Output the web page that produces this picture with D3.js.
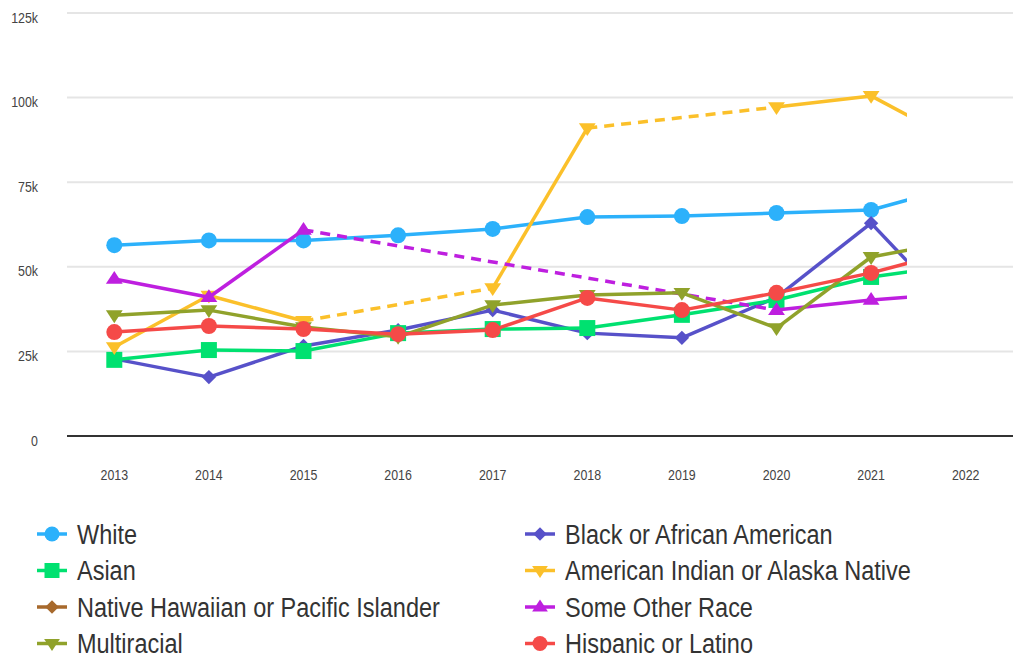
<!DOCTYPE html>
<html>
<head>
<meta charset="utf-8">
<script src="https://cdn.jsdelivr.net/npm/d3@7"></script>
<style>
  body { margin: 0; background: #fff; }
  svg { display: block; font-family: "Liberation Sans", Arial, sans-serif; }
</style>
</head>
<body>
<script>
// chart data (values in thousands)
const years = [2013, 2014, 2015, 2016, 2017, 2018, 2019, 2020, 2021, 2022]
const yTicks = [0, 25, 50, 75, 100, 125]

const white = [56.4, 57.8, 57.8, 59.3, 61.2, 64.7, 65.0, 65.9, 66.8, 74.5]
const black = [22.8, 17.4, 26.6, 31.3, 37.2, 30.4, 29.0, 41.0, 62.9, 33.4]
const asian = [22.5, 25.4, 25.1, 30.4, 31.6, 31.9, 35.8, 40.2, 47.0, 50.8]
const amIndian = [26.3, 41.5, 34.0, null, 43.7, 91.0, null, 97.2, 100.5, 85.7]
const hawaiian = [null, null, null, null, null, null, null, null, null, null]
const otherRace = [46.4, 41.0, 60.9, null, null, null, null, 37.2, 40.2, 42.3]
const multiracial = [35.7, 37.2, 32.2, 29.3, 38.7, 41.7, 42.3, 31.9, 52.9, 58.2]
const hispanic = [30.7, 32.5, 31.6, 30.1, 31.3, 40.8, 37.2, 42.3, 48.2, 55.6]

const series = [
    {name: 'White', values: white, color: '#2cb1fb', marker: 'circle'},
    {name: 'Black or African American', values: black, color: '#5751c9', marker: 'diamond'},
    {name: 'Asian', values: asian, color: '#00e170', marker: 'square'},
    {name: 'American Indian or Alaska Native', values: amIndian, color: '#fbc02a', marker: 'down'},
    {name: 'Native Hawaiian or Pacific Islander', values: hawaiian, color: '#a7692c', marker: 'diamond'},
    {name: 'Some Other Race', values: otherRace, color: '#be1fdf', marker: 'up'},
    {name: 'Multiracial', values: multiracial, color: '#90a22b', marker: 'down'},
    {name: 'Hispanic or Latino', values: hispanic, color: '#f54a48', marker: 'circle'}
]

const width = 1021, height = 653
const svg = d3.select('body').append('svg')
    .attr('width', width)
    .attr('height', height)

const x = d3.scaleBand().domain(years).range([67, 1013])
const xc = d => x(d) + x.bandwidth() / 2
const y = d3.scaleLinear().domain([0, 125]).range([436, 13])

// grid lines
svg.append('g').selectAll('line')
    .data(yTicks.filter(t => t > 0))
    .join('line')
    .attr('x1', 67).attr('x2', 1013)
    .attr('y1', d => y(d)).attr('y2', d => y(d))
    .attr('stroke', '#e5e5e5')
    .attr('stroke-width', 2)

// baseline
svg.append('line')
    .attr('x1', 67).attr('x2', 1013)
    .attr('y1', y(0)).attr('y2', y(0))
    .attr('stroke', '#333')
    .attr('stroke-width', 2)

// labels are drawn a bit narrow, like the original
const squeeze = 0.8

// y labels
svg.append('g').selectAll('text')
    .data(yTicks)
    .join('text')
    .attr('transform', d => `translate(38,${y(d) + 9.5}) scale(${squeeze},1)`)
    .attr('text-anchor', 'end')
    .attr('font-size', 15.5)
    .attr('fill', '#444')
    .text(d => d === 0 ? '0' : d + 'k')

// x labels
svg.append('g').selectAll('text')
    .data(years)
    .join('text')
    .attr('transform', d => `translate(${xc(d)},479.5) scale(${squeeze},1)`)
    .attr('text-anchor', 'middle')
    .attr('font-size', 15.5)
    .attr('fill', '#444')
    .text(d => d)

function markerPath(type, s) {
    if (type === 'circle') return d3.symbol(d3.symbolCircle, Math.PI * s * s)()
    if (type === 'square') return `M${-s},${-s}H${s}V${s}H${-s}Z`
    if (type === 'diamond') { let r = s * 0.9; return `M0,${-r}L${r},0L0,${r}L${-r},0Z` }
    let h = s * 1.6, w = s * 1.05
    if (type === 'up') return `M0,${-h * 0.62}L${w},${h * 0.38}L${-w},${h * 0.38}Z`
    return `M0,${h * 0.62}L${w},${-h * 0.38}L${-w},${-h * 0.38}Z`
}

svg.append('clipPath').attr('id', 'plotclip')
    .append('rect').attr('x', 60).attr('y', 0).attr('width', 847).attr('height', 440)

const plot = svg.append('g').attr('clip-path', 'url(#plotclip)')

const line = d3.line().x(d => xc(d.year)).y(d => y(d.v))

for (const s of series) {
    const pts = years.map((yr, i) => ({year: yr, v: s.values[i], i: i})).filter(d => d.v !== null)
    const g = plot.append('g')
    for (let k = 1; k < pts.length; k++) {
        const a = pts[k - 1], b = pts[k]
        g.append('path')
            .attr('d', line([a, b]))
            .attr('fill', 'none')
            .attr('stroke', s.color)
            .attr('stroke-width', 3.5)
            .attr('stroke-dasharray', b.i - a.i > 1 ? '10,7' : null)
    }
    g.selectAll('.pt')
        .data(pts)
        .join('path')
        .attr('class', 'pt')
        .attr('transform', d => `translate(${xc(d.year)},${y(d.v)})`)
        .attr('d', markerPath(s.marker, 8))
        .attr('fill', s.color)
}

// legend
const legend = svg.append('g')
series.forEach((s, i) => {
    const col = i % 2, row = Math.floor(i / 2)
    const lx = col === 0 ? 37 : 525
    const ly = 534 + row * 36.5
    const g = legend.append('g').attr('transform', `translate(${lx},${ly})`)
    g.append('line')
        .attr('x1', 0).attr('x2', 30)
        .attr('stroke', s.color).attr('stroke-width', 3.5)
    g.append('path')
        .attr('transform', 'translate(15,0)')
        .attr('d', markerPath(s.marker, 7.5))
        .attr('fill', s.color)
    g.append('text')
        .attr('transform', 'translate(40,9.5) scale(0.87,1)')
        .attr('font-size', 27)
        .attr('fill', '#333')
        .text(s.name)
})
</script>
</body>
</html>
